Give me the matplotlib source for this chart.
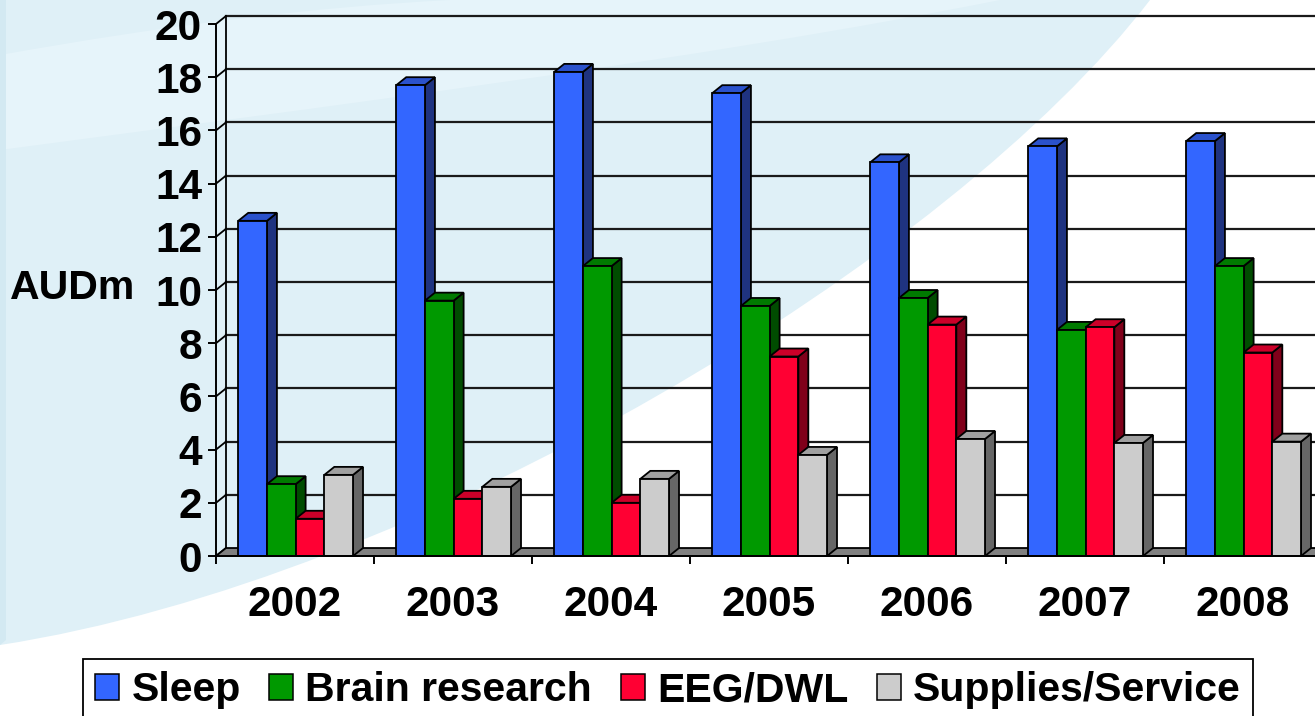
import numpy as np
import matplotlib.pyplot as plt
from matplotlib.patches import Polygon, Patch, PathPatch
from matplotlib.path import Path

plt.rcParams['font.family'] = ['Liberation Sans', 'DejaVu Sans']
plt.rcParams['font.weight'] = 'bold'

# spend per year, AUD millions
years = ['2002', '2003', '2004', '2005', '2006', '2007', '2008']
series = ['Sleep', 'Brain research', 'EEG/DWL', 'Supplies/Service']
sleep = [12.6, 17.7, 18.2, 17.4, 14.8, 15.4, 15.6]
brain = [2.7, 9.6, 10.9, 9.4, 9.7, 8.5, 10.9]
eeg = [1.4, 2.15, 2.0, 7.5, 8.7, 8.6, 7.65]
supplies = [3.05, 2.6, 2.9, 3.8, 4.4, 4.25, 4.3]
values = [sleep, brain, eeg, supplies]

front = ['#3366ff', '#009900', '#ff0033', '#cccccc']
side = ['#1f3380', '#004c00', '#80001a', '#666666']
top = ['#2b52cc', '#007a00', '#cc0029', '#a0a0a0']

n = len(years)
ymax = 20
dx, dy = 0.063, 0.30       # fake 3d depth (x in categories, y in AUDm)
off, bw = 0.141, 0.1816    # group offset and bar width inside a category
fs = 30.5
elw = 1.3

fig = plt.figure(figsize=(13.15, 7.16), dpi=100)

# slide background: light blue swoosh over white
bg = fig.add_axes([0, 0, 1, 1], zorder=-1)
bg.set_xlim(0, 1315)
bg.set_ylim(716, 0)
bg.axis('off')
blue = Path([(0, 0), (1150, 0), (950, 260), (420, 580), (0, 645), (0, 0)],
            [Path.MOVETO, Path.LINETO, Path.CURVE4, Path.CURVE4, Path.CURVE4, Path.CLOSEPOLY])
bg.add_patch(PathPatch(blue, fc='#dff0f7', ec='none'))
band = Path([(0, 55), (250, 10), (450, 0), (1000, 0), (700, 60), (300, 110), (0, 150), (0, 55)],
            [Path.MOVETO, Path.CURVE3, Path.CURVE3, Path.LINETO, Path.CURVE4, Path.CURVE4, Path.CURVE4,
             Path.CLOSEPOLY])
bg.add_patch(PathPatch(band, fc='#e6f4fa', ec='none'))
bg.add_patch(Polygon([(0, 0), (6, 0), (6, 640), (0, 645)], closed=True, fc='#d3e9f2', ec='none'))

ax = fig.add_axes([216 / 1315, 1 - 556 / 716, 1106 / 1315, 532 / 716])
ax.patch.set_alpha(0)
ax.set_xlim(0, n)
ax.set_ylim(0, ymax)

# back wall, side wall gridlines and floor
yt = np.arange(0, ymax + 1, 2)
for k in yt:
    ax.plot([0, dx], [k, k + dy], color='k', lw=1.3, clip_on=False, zorder=1)
    if k > 0:
        ax.plot([dx, n + dx], [k + dy, k + dy], color='#1a1a1a', lw=1.6, clip_on=False, zorder=1)
ax.plot([dx, dx], [dy, ymax + dy], color='k', lw=1.3, clip_on=False, zorder=1)
ax.add_patch(Polygon([(0, 0), (dx, dy), (n + dx, dy), (n, 0)], closed=True,
                     fc='#808080', ec='k', lw=elw, clip_on=False, zorder=2))

for j, vals in enumerate(values):
    xs = np.arange(n) + off + j * bw
    for x, v in zip(xs, vals):
        ax.add_patch(Polygon([(x + bw, 0), (x + bw + dx, dy), (x + bw + dx, v + dy), (x + bw, v)],
                             closed=True, fc=side[j], ec='k', lw=elw, clip_on=False, zorder=3 + j))
        ax.add_patch(Polygon([(x, v), (x + dx, v + dy), (x + bw + dx, v + dy), (x + bw, v)],
                             closed=True, fc=top[j], ec='k', lw=elw, clip_on=False, zorder=3 + j))
    ax.bar(xs, vals, bw, align='edge', color=front[j], edgecolor='k', lw=elw, zorder=3 + j)

for s in ['top', 'right']:
    ax.spines[s].set_visible(False)
for s in ['left', 'bottom']:
    ax.spines[s].set_linewidth(1.4)
    ax.spines[s].set_zorder(10)

ax.set_yticks(yt)
ax.set_yticklabels([str(k) for k in yt], fontsize=fs, fontweight='bold')
ax.tick_params(axis='y', direction='out', length=6, width=1.4, pad=4)

ax.set_xticks(np.arange(n + 1))
ax.set_xticklabels([])
ax.set_xticks(np.arange(n) + 0.5, minor=True)
ax.set_xticklabels(years, minor=True, fontsize=fs, fontweight='bold')
ax.tick_params(axis='x', which='major', direction='out', length=6, width=1.4)
ax.tick_params(axis='x', which='minor', length=0, pad=21)

ax.set_ylabel('AUDm', rotation=0, fontsize=29.5, fontweight='bold', ha='right', va='center')
ax.yaxis.set_label_coords(-0.0732, 0.504)

handles = [Patch(fc=front[j], ec='k', lw=1.1) for j in range(len(series))]
leg = fig.legend(handles, series, loc='upper left', bbox_to_anchor=(83 / 1315, 1 - 659 / 716),
                 ncol=4, prop={'weight': 'bold', 'size': 29.5}, frameon=True, fancybox=False,
                 borderaxespad=0, borderpad=0.3, handlelength=0.58, handleheight=0.58,
                 handletextpad=0.3, columnspacing=0.7)
leg.get_frame().set_edgecolor('k')
leg.get_frame().set_linewidth(1.3)
leg.get_frame().set_alpha(1)

fig.savefig('out.png', dpi=100)
